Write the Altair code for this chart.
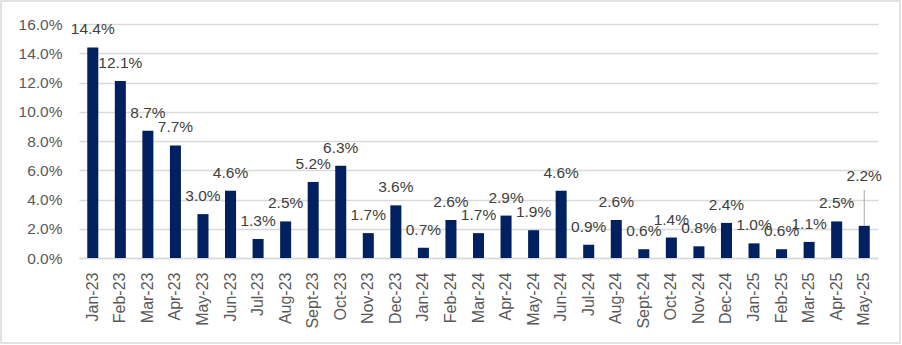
import altair as alt
import pandas as pd

months = ["Jan-23","Feb-23","Mar-23","Apr-23","May-23","Jun-23","Jul-23","Aug-23","Sept-23","Oct-23","Nov-23","Dec-23",
          "Jan-24","Feb-24","Mar-24","Apr-24","May-24","Jun-24","Jul-24","Aug-24","Sept-24","Oct-24","Nov-24","Dec-24",
          "Jan-25","Feb-25","Mar-25","Apr-25","May-25"]
values = [14.4,12.1,8.7,7.7,3.0,4.6,1.3,2.5,5.2,6.3,1.7,3.6,
          0.7,2.6,1.7,2.9,1.9,4.6,0.9,2.6,0.6,1.4,0.8,2.4,
          1.0,0.6,1.1,2.5,2.2]
y_ticks = [0.0, 2.0, 4.0, 6.0, 8.0, 10.0, 12.0, 14.0, 16.0]

df = pd.DataFrame({"month": months, "value": [v / 100 for v in values]})

FONT = "Liberation Sans"
NAVY = "#002060"

x = alt.X("month:N", sort=months, title=None,
          scale=alt.Scale(paddingInner=0.6, paddingOuter=0.3),
          axis=alt.Axis(labelAngle=270, labelFontSize=16, labelColor="#595959", labelFont=FONT,
                        labelPadding=14, ticks=False, domainColor="#d9d9d9", domainWidth=1.5, grid=False,
                        labelOverlap=False))
y = alt.Y("value:Q", title=None,
          scale=alt.Scale(domain=[0, 0.16], nice=False),
          axis=alt.Axis(format=".1%", values=[t / 100 for t in y_ticks], labelFontSize=15.5,
                        labelColor="#595959", labelFont=FONT, labelPadding=17, ticks=False, domain=False,
                        gridColor="#d9d9d9", gridWidth=1.5, labelOverlap=False))

base = alt.Chart(df).encode(x=x, y=y)
bars = base.mark_bar(color=NAVY)

labels = base.transform_filter(alt.datum.month != "May-25").mark_text(
    dy=-18, fontSize=15.5, font=FONT, color="#404040"
).encode(text=alt.Text("value:Q", format=".1%"))

last = base.transform_filter(alt.datum.month == "May-25")
last_label = last.mark_text(dy=-50, fontSize=15.5, font=FONT, color="#404040").encode(
    text=alt.Text("value:Q", format=".1%"))
leader = last.transform_calculate(top="datum.value + 0.0245").mark_rule(color="#a6a6a6", strokeWidth=1).encode(
    y2="top:Q")

border = alt.Chart(pd.DataFrame({"a": [0]})).mark_rect(fill=None, stroke="#d9d9d9", strokeWidth=1.5).encode(
    x=alt.value(-78), x2=alt.value(821), y=alt.value(-23), y2=alt.value(319))

chart = alt.layer(bars, labels, leader, last_label, border).properties(
    width=799, height=234,
    autosize=alt.AutoSizeParams(type="none"),
    padding={"left": 79, "top": 24, "right": 24, "bottom": 87},
    background="white",
).configure_view(stroke=None)

chart.save("out.html", embed_options={"renderer": "svg", "actions": False})
